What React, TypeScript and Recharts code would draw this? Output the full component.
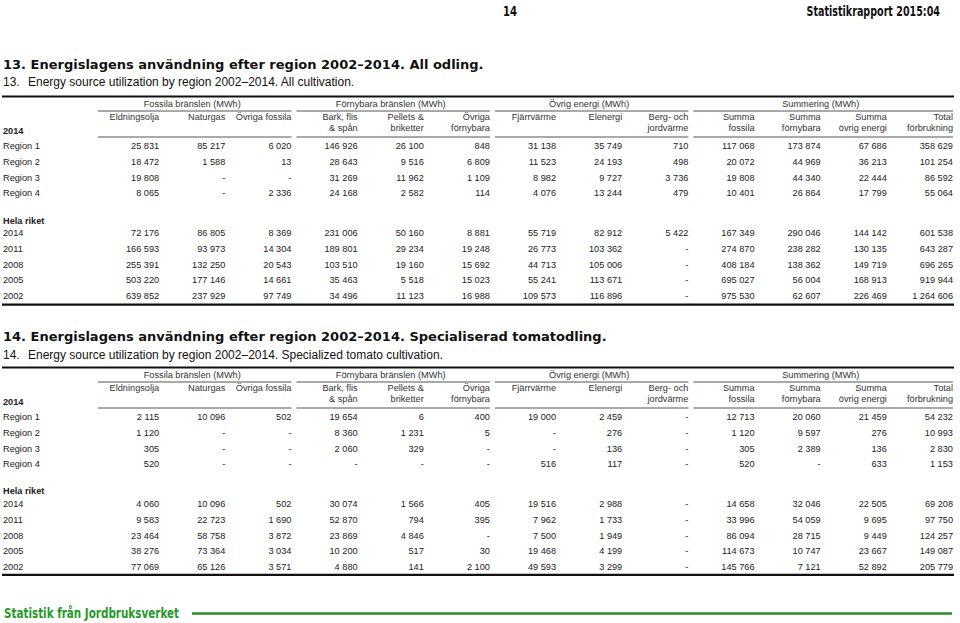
import React from "react";
import { ScatterChart, Scatter, XAxis, YAxis } from "recharts";

// columns of both tables, in order
const COLUMNS = [
  "eldningsolja", "naturgas", "ovrigaFossila",
  "bark", "pellets", "ovrigaFornybara",
  "fjarrvarme", "elenergi", "berg",
  "summaFossila", "summaFornybara", "summaOvrig", "total",
];
const COLUMN_HEADS = [
  ["Eldningsolja"], ["Naturgas"], ["Övriga fossila"],
  ["Bark, flis", "& spån"], ["Pellets &", "briketter"], ["Övriga", "förnybara"],
  ["Fjärrvärme"], ["Elenergi"], ["Berg- och", "jordvärme"],
  ["Summa", "fossila"], ["Summa", "förnybara"], ["Summa", "övrig energi"], ["Total", "förbrukning"],
];
const GROUPS = [
  { label: "Fossila bränslen (MWh)", from: 0, to: 2 },
  { label: "Förnybara bränslen (MWh)", from: 3, to: 5 },
  { label: "Övrig energi (MWh)", from: 6, to: 8 },
  { label: "Summering (MWh)", from: 9, to: 12 },
];

const REGIONS = ["Region 1", "Region 2", "Region 3", "Region 4"];
const YEARS = ["2014", "2011", "2008", "2005", "2002"];

// table 13, all cultivation (null = "-")
const ALL_REGIONS = [
  [25831, 85217, 6020, 146926, 26100, 848, 31138, 35749, 710, 117068, 173874, 67686, 358629],
  [18472, 1588, 13, 28643, 9516, 6809, 11523, 24193, 498, 20072, 44969, 36213, 101254],
  [19808, null, null, 31269, 11962, 1109, 8982, 9727, 3736, 19808, 44340, 22444, 86592],
  [8065, null, 2336, 24168, 2582, 114, 4076, 13244, 479, 10401, 26864, 17799, 55064],
];
const ALL_YEARS = [
  [72176, 86805, 8369, 231006, 50160, 8881, 55719, 82912, 5422, 167349, 290046, 144142, 601538],
  [166593, 93973, 14304, 189801, 29234, 19248, 26773, 103362, null, 274870, 238282, 130135, 643287],
  [255391, 132250, 20543, 103510, 19160, 15692, 44713, 105006, null, 408184, 138362, 149719, 696265],
  [503220, 177146, 14661, 35463, 5518, 15023, 55241, 113671, null, 695027, 56004, 168913, 919944],
  [639852, 237929, 97749, 34496, 11123, 16988, 109573, 116896, null, 975530, 62607, 226469, 1264606],
];

// table 14, specialised tomato cultivation
const TOMATO_REGIONS = [
  [2115, 10096, 502, 19654, 6, 400, 19000, 2459, null, 12713, 20060, 21459, 54232],
  [1120, null, null, 8360, 1231, 5, null, 276, null, 1120, 9597, 276, 10993],
  [305, null, null, 2060, 329, null, null, 136, null, 305, 2389, 136, 2830],
  [520, null, null, null, null, null, 516, 117, null, 520, null, 633, 1153],
];
const TOMATO_YEARS = [
  [4060, 10096, 502, 30074, 1566, 405, 19516, 2988, null, 14658, 32046, 22505, 69208],
  [9583, 22723, 1690, 52870, 794, 395, 7962, 1733, null, 33996, 54059, 9695, 97750],
  [23464, 58758, 3872, 23869, 4846, null, 7500, 1949, null, 86094, 28715, 9449, 124257],
  [38276, 73364, 3034, 10200, 517, 30, 19468, 4199, null, 114673, 10747, 23667, 149087],
  [77069, 65126, 3571, 4880, 141, 2100, 49593, 3299, null, 145766, 7121, 52892, 205779],
];

const W = 960;
const H = 623;
const LABEL_W = 93;
const RIGHT = 7;
const BAND = (W - LABEL_W - RIGHT) / COLUMNS.length;
const PITCH = 15.7;
const SANS = '"Liberation Sans", Arial, sans-serif';
const NARROW = '"Liberation Sans Narrow", "DejaVu Sans Condensed", sans-serif';
const FS = 9.2;
const INK = "#222";
const GREEN = "#1f9a2a";

const fmt = (v: number | null) =>
  v == null ? "-" : String(v).replace(/\B(?=(\d{3})+(?!\d))/g, " ");

function toPoints(rows: string[], values: (number | null)[][]) {
  return rows.flatMap((row, r) => COLUMNS.map((col, c) => ({ row, col, value: values[r][c] })));
}

const RowTick = (p: any) => (
  <text x={3} y={p.y} dy="0.36em" fontSize={FS} fontFamily={SANS} fill={INK}>
    {p.payload.value}
  </text>
);

const CellText = (p: any) => (
  <text x={p.cx + BAND / 2} y={p.cy} dy="0.36em" textAnchor="end" fontSize={FS} fontFamily={SANS} fill={INK}>
    {fmt(p.payload.value)}
  </text>
);

function Block({ top, rows, values }: { top: number; rows: string[]; values: (number | null)[][] }) {
  return (
    <div style={{ position: "absolute", left: 0, top }}>
      <ScatterChart width={W} height={rows.length * PITCH} margin={{ top: 0, right: RIGHT, bottom: 0, left: 0 }}>
        <XAxis type="category" dataKey="col" allowDuplicatedCategory={false} hide />
        <YAxis
          type="category"
          dataKey="row"
          allowDuplicatedCategory={false}
          reversed
          width={LABEL_W}
          axisLine={false}
          tickLine={false}
          interval={0}
          tick={RowTick}
        />
        <Scatter data={toPoints(rows, values)} isAnimationActive={false} shape={CellText} />
      </ScatterChart>
    </div>
  );
}

function Frame({ num, title, subtitle, titleY, subY, r1, y2014, last }: any) {
  const colRight = (i: number) => LABEL_W + BAND * (i + 1);
  return (
    <g>
      <text x={3} y={titleY + 4.7} fontFamily='"DejaVu Sans", sans-serif' fontWeight="bold" fontSize={13} fill="#111">
        {`${num}. ${title}`}
      </text>
      <text x={3} y={subY + 4.3} fontFamily={SANS} fontSize={12} fill="#111">{`${num}.`}</text>
      <text x={28} y={subY + 4.3} fontFamily={SANS} fontSize={12} fill="#111">{subtitle}</text>

      <line x1={2} x2={954} y1={r1 - 49.5} y2={r1 - 49.5} stroke="#111" strokeWidth={2.2} />
      {GROUPS.map((g) => {
        const a = LABEL_W + BAND * g.from;
        const b = LABEL_W + BAND * (g.to + 1);
        return (
          <g key={g.label}>
            <text x={(a + b) / 2} y={r1 - 42} dy="0.36em" textAnchor="middle" fontSize={FS} fontFamily={SANS} fill="#333">
              {g.label}
            </text>
            <line x1={a + 5} x2={b} y1={r1 - 35} y2={r1 - 35} stroke="#555" strokeWidth={1} />
            <line x1={a + 5} x2={b} y1={r1 - 9} y2={r1 - 9} stroke="#555" strokeWidth={1} />
          </g>
        );
      })}
      {COLUMN_HEADS.map((h, i) =>
        h.map((s, k) => (
          <text key={i + "-" + k} x={colRight(i)} y={r1 - 29 + k * 10.5} dy="0.36em" textAnchor="end" fontSize={FS} fontFamily={SANS} fill="#333">
            {s}
          </text>
        ))
      )}
      <text x={3} y={r1 - 15.5} dy="0.36em" fontSize={FS} fontWeight="bold" fontFamily={SANS} fill={INK}>2014</text>
      <text x={3} y={y2014 - 13} dy="0.36em" fontSize={FS} fontWeight="bold" fontFamily={SANS} fill={INK}>Hela riket</text>
      <line x1={2} x2={954} y1={last + 8.5} y2={last + 8.5} stroke="#111" strokeWidth={2.2} />
    </g>
  );
}

export default function App() {
  const t1 = { r1: 146, y2014: 233.3 };
  const t2 = { r1: 417, y2014: 503.5 };
  const top = (y: number) => y - PITCH / 2;
  return (
    <div style={{ position: "absolute", left: 0, top: 0, width: W, height: H, background: "#fff", overflow: "hidden" }}>
      <svg width={W} height={H} style={{ position: "absolute", left: 0, top: 0 }}>
        <text x={503} y={15.5} fontFamily={NARROW} fontWeight="bold" fontSize={14} fill="#111" textLength={14} lengthAdjust="spacingAndGlyphs">14</text>
        <g transform="translate(940 15.5) scale(0.76 1)">
          <text x={0} y={0} textAnchor="end" fontFamily={NARROW} fontWeight="bold" fontSize={14} fill="#111">
            Statistikrapport 2015:04
          </text>
        </g>

        <Frame
          num={13}
          title="Energislagens användning efter region 2002–2014. All odling."
          subtitle="Energy source utilization by region 2002–2014. All cultivation."
          titleY={64}
          subY={81.5}
          r1={t1.r1}
          y2014={t1.y2014}
          last={t1.y2014 + 4 * PITCH}
        />
        <Frame
          num={14}
          title="Energislagens användning efter region 2002–2014. Specialiserad tomatodling."
          subtitle="Energy source utilization by region 2002–2014. Specialized tomato cultivation."
          titleY={336.5}
          subY={354.5}
          r1={t2.r1}
          y2014={t2.y2014}
          last={t2.y2014 + 4 * PITCH}
        />

        <text x={4} y={618} fontFamily={NARROW} fontWeight="bold" fontSize={14} fill={GREEN} textLength={175} lengthAdjust="spacingAndGlyphs">
          Statistik från Jordbruksverket
        </text>
        <line x1={192} x2={952} y1={613.5} y2={613.5} stroke="#2b8a2b" strokeWidth={2.5} />
      </svg>

      <Block top={top(t1.r1)} rows={REGIONS} values={ALL_REGIONS} />
      <Block top={top(t1.y2014)} rows={YEARS} values={ALL_YEARS} />
      <Block top={top(t2.r1)} rows={REGIONS} values={TOMATO_REGIONS} />
      <Block top={top(t2.y2014)} rows={YEARS} values={TOMATO_YEARS} />
    </div>
  );
}
